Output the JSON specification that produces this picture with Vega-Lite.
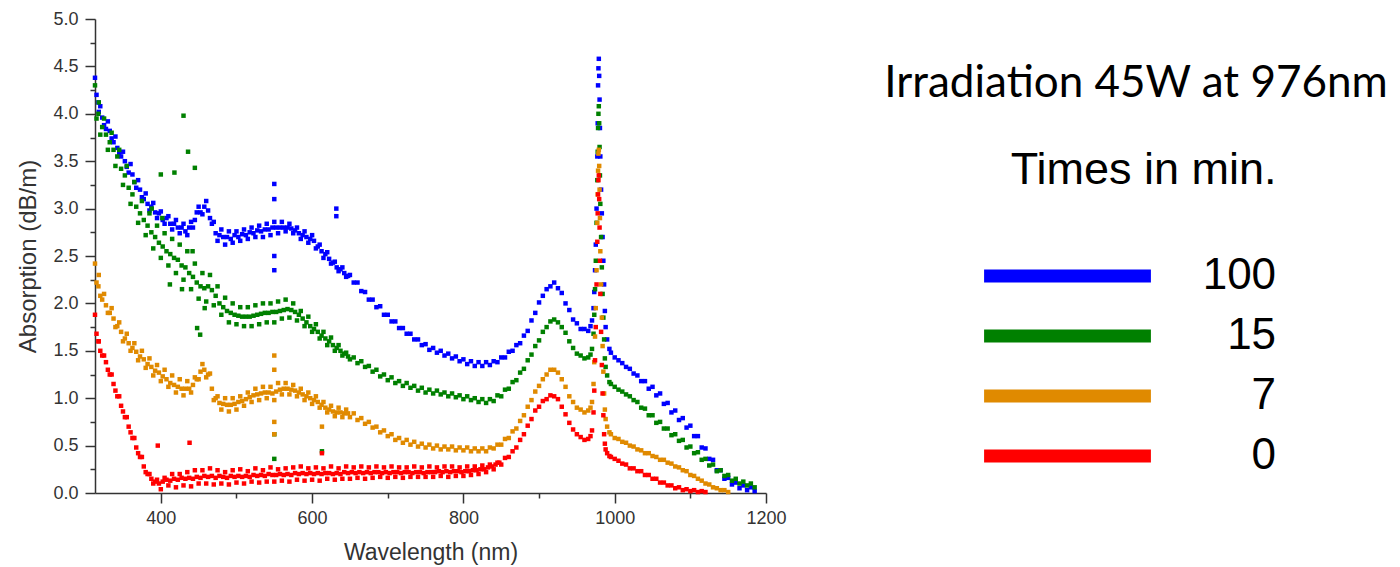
{
"$schema": "https://vega.github.io/schema/vega-lite/v6.json",
"width": 671, "height": 474,
"autosize": {"type": "none"},
"padding": {"left": 95, "top": 19, "right": 634, "bottom": 74},
"background": "white",
"title": {"text": "Irradiation 45W at 976nm", "anchor": "start", "frame": "group", "align": "center", "dx": 1041, "dy": 131, "baseline": "alphabetic", "offset": 0, "font": "Lato", "fontSize": 44, "fontWeight": "normal", "color": "black"},
"data": {"values": [
{"time":"100","nm":313,"abs":4.38},{"time":"100","nm":315,"abs":4.2},{"time":"100","nm":318,"abs":4.02},{"time":"100","nm":320,"abs":4.08},{"time":"100","nm":325,"abs":3.88},{"time":"100","nm":330,"abs":3.92},{"time":"100","nm":335,"abs":3.74},{"time":"100","nm":340,"abs":3.76},{"time":"100","nm":345,"abs":3.58},{"time":"100","nm":350,"abs":3.6},{"time":"100","nm":355,"abs":3.44},{"time":"100","nm":360,"abs":3.47},{"time":"100","nm":365,"abs":3.28},{"time":"100","nm":370,"abs":3.3},{"time":"100","nm":375,"abs":3.12},{"time":"100","nm":380,"abs":3.16},{"time":"100","nm":385,"abs":2.98},{"time":"100","nm":390,"abs":3.06},{"time":"100","nm":395,"abs":2.9},{"time":"100","nm":400,"abs":2.97},{"time":"100","nm":405,"abs":2.84},{"time":"100","nm":410,"abs":2.92},{"time":"100","nm":415,"abs":2.78},{"time":"100","nm":420,"abs":2.88},{"time":"100","nm":425,"abs":2.74},{"time":"100","nm":430,"abs":2.84},{"time":"100","nm":435,"abs":2.72},{"time":"100","nm":440,"abs":2.86},{"time":"100","nm":445,"abs":2.88},{"time":"100","nm":450,"abs":3.02},{"time":"100","nm":455,"abs":2.94},{"time":"100","nm":460,"abs":3.08},{"time":"100","nm":465,"abs":2.9},{"time":"100","nm":470,"abs":2.86},{"time":"100","nm":475,"abs":2.66},{"time":"100","nm":480,"abs":2.78},{"time":"100","nm":485,"abs":2.62},{"time":"100","nm":490,"abs":2.76},{"time":"100","nm":495,"abs":2.64},{"time":"100","nm":500,"abs":2.76},{"time":"100","nm":505,"abs":2.66},{"time":"100","nm":510,"abs":2.78},{"time":"100","nm":515,"abs":2.68},{"time":"100","nm":520,"abs":2.8},{"time":"100","nm":525,"abs":2.7},{"time":"100","nm":530,"abs":2.82},{"time":"100","nm":535,"abs":2.7},{"time":"100","nm":540,"abs":2.84},{"time":"100","nm":545,"abs":2.72},{"time":"100","nm":550,"abs":2.86},{"time":"100","nm":555,"abs":2.74},{"time":"100","nm":560,"abs":2.86},{"time":"100","nm":565,"abs":2.76},{"time":"100","nm":570,"abs":2.84},{"time":"100","nm":575,"abs":2.74},{"time":"100","nm":580,"abs":2.8},{"time":"100","nm":585,"abs":2.68},{"time":"100","nm":590,"abs":2.76},{"time":"100","nm":595,"abs":2.64},{"time":"100","nm":600,"abs":2.72},{"time":"100","nm":605,"abs":2.58},{"time":"100","nm":610,"abs":2.62},{"time":"100","nm":615,"abs":2.48},{"time":"100","nm":620,"abs":2.54},{"time":"100","nm":625,"abs":2.42},{"time":"100","nm":630,"abs":2.44},{"time":"100","nm":635,"abs":2.34},{"time":"100","nm":640,"abs":2.38},{"time":"100","nm":645,"abs":2.28},{"time":"100","nm":650,"abs":2.3},{"time":"100","nm":655,"abs":2.22},{"time":"100","nm":660,"abs":2.22},{"time":"100","nm":665,"abs":2.13},{"time":"100","nm":670,"abs":2.12},{"time":"100","nm":675,"abs":2.04},{"time":"100","nm":680,"abs":2.04},{"time":"100","nm":685,"abs":1.96},{"time":"100","nm":690,"abs":1.97},{"time":"100","nm":695,"abs":1.88},{"time":"100","nm":700,"abs":1.88},{"time":"100","nm":705,"abs":1.81},{"time":"100","nm":710,"abs":1.81},{"time":"100","nm":715,"abs":1.74},{"time":"100","nm":720,"abs":1.74},{"time":"100","nm":725,"abs":1.68},{"time":"100","nm":730,"abs":1.68},{"time":"100","nm":735,"abs":1.62},{"time":"100","nm":740,"abs":1.62},{"time":"100","nm":745,"abs":1.56},{"time":"100","nm":750,"abs":1.57},{"time":"100","nm":755,"abs":1.51},{"time":"100","nm":760,"abs":1.53},{"time":"100","nm":765,"abs":1.48},{"time":"100","nm":770,"abs":1.5},{"time":"100","nm":775,"abs":1.45},{"time":"100","nm":780,"abs":1.47},{"time":"100","nm":785,"abs":1.42},{"time":"100","nm":790,"abs":1.44},{"time":"100","nm":795,"abs":1.39},{"time":"100","nm":800,"abs":1.41},{"time":"100","nm":805,"abs":1.36},{"time":"100","nm":810,"abs":1.39},{"time":"100","nm":815,"abs":1.34},{"time":"100","nm":820,"abs":1.38},{"time":"100","nm":825,"abs":1.34},{"time":"100","nm":830,"abs":1.38},{"time":"100","nm":835,"abs":1.35},{"time":"100","nm":840,"abs":1.39},{"time":"100","nm":845,"abs":1.38},{"time":"100","nm":850,"abs":1.43},{"time":"100","nm":855,"abs":1.43},{"time":"100","nm":860,"abs":1.49},{"time":"100","nm":865,"abs":1.5},{"time":"100","nm":870,"abs":1.56},{"time":"100","nm":875,"abs":1.58},{"time":"100","nm":880,"abs":1.66},{"time":"100","nm":885,"abs":1.71},{"time":"100","nm":890,"abs":1.82},{"time":"100","nm":895,"abs":1.9},{"time":"100","nm":900,"abs":2.01},{"time":"100","nm":905,"abs":2.08},{"time":"100","nm":910,"abs":2.15},{"time":"100","nm":915,"abs":2.18},{"time":"100","nm":920,"abs":2.22},{"time":"100","nm":925,"abs":2.16},{"time":"100","nm":930,"abs":2.11},{"time":"100","nm":935,"abs":2.0},{"time":"100","nm":940,"abs":1.93},{"time":"100","nm":945,"abs":1.83},{"time":"100","nm":950,"abs":1.79},{"time":"100","nm":955,"abs":1.73},{"time":"100","nm":960,"abs":1.73},{"time":"100","nm":965,"abs":1.71},{"time":"100","nm":968,"abs":1.76},{"time":"100","nm":970,"abs":1.82},{"time":"100","nm":972,"abs":1.95},{"time":"100","nm":973,"abs":2.12},{"time":"100","nm":974,"abs":2.35},{"time":"100","nm":975,"abs":2.62},{"time":"100","nm":976,"abs":3.0},{"time":"100","nm":977,"abs":3.55},{"time":"100","nm":977.5,"abs":3.9},{"time":"100","nm":978,"abs":4.3},{"time":"100","nm":978.5,"abs":4.48},{"time":"100","nm":979,"abs":4.58},{"time":"100","nm":979.5,"abs":4.4},{"time":"100","nm":980,"abs":4.15},{"time":"100","nm":980.5,"abs":3.85},{"time":"100","nm":981,"abs":3.55},{"time":"100","nm":982,"abs":3.2},{"time":"100","nm":983,"abs":2.95},{"time":"100","nm":984,"abs":2.7},{"time":"100","nm":985,"abs":2.45},{"time":"100","nm":986,"abs":2.2},{"time":"100","nm":987,"abs":1.92},{"time":"100","nm":988,"abs":1.75},{"time":"100","nm":990,"abs":1.62},{"time":"100","nm":993,"abs":1.52},{"time":"100","nm":995,"abs":1.48},{"time":"100","nm":1000,"abs":1.43},{"time":"100","nm":1005,"abs":1.4},{"time":"100","nm":1010,"abs":1.37},{"time":"100","nm":1015,"abs":1.33},{"time":"100","nm":1020,"abs":1.31},{"time":"100","nm":1025,"abs":1.26},{"time":"100","nm":1030,"abs":1.24},{"time":"100","nm":1035,"abs":1.18},{"time":"100","nm":1040,"abs":1.18},{"time":"100","nm":1045,"abs":1.1},{"time":"100","nm":1050,"abs":1.12},{"time":"100","nm":1055,"abs":1.03},{"time":"100","nm":1060,"abs":1.05},{"time":"100","nm":1065,"abs":0.94},{"time":"100","nm":1070,"abs":0.95},{"time":"100","nm":1075,"abs":0.85},{"time":"100","nm":1080,"abs":0.87},{"time":"100","nm":1085,"abs":0.77},{"time":"100","nm":1090,"abs":0.79},{"time":"100","nm":1095,"abs":0.69},{"time":"100","nm":1100,"abs":0.71},{"time":"100","nm":1105,"abs":0.6},{"time":"100","nm":1110,"abs":0.6},{"time":"100","nm":1115,"abs":0.48},{"time":"100","nm":1120,"abs":0.47},{"time":"100","nm":1125,"abs":0.36},{"time":"100","nm":1130,"abs":0.35},{"time":"100","nm":1135,"abs":0.24},{"time":"100","nm":1140,"abs":0.24},{"time":"100","nm":1145,"abs":0.15},{"time":"100","nm":1150,"abs":0.16},{"time":"100","nm":1155,"abs":0.09},{"time":"100","nm":1160,"abs":0.11},{"time":"100","nm":1165,"abs":0.05},{"time":"100","nm":1170,"abs":0.08},{"time":"100","nm":1175,"abs":0.03},{"time":"100","nm":1180,"abs":0.06},{"time":"100","nm":1185,"abs":0.02},
{"time":"100","nm":550,"abs":3.26},{"time":"100","nm":550,"abs":3.1},{"time":"100","nm":550,"abs":2.5},{"time":"100","nm":550,"abs":2.35},{"time":"100","nm":632,"abs":3.0},{"time":"100","nm":632,"abs":2.92},
{"time":"100","nm":317.5,"abs":4.12},{"time":"100","nm":322.5,"abs":3.96},{"time":"100","nm":327.5,"abs":3.84},{"time":"100","nm":332.5,"abs":3.82},{"time":"100","nm":337.5,"abs":3.7},{"time":"100","nm":342.5,"abs":3.64},{"time":"100","nm":347.5,"abs":3.55},{"time":"100","nm":352.5,"abs":3.5},{"time":"100","nm":357.5,"abs":3.38},{"time":"100","nm":362.5,"abs":3.36},{"time":"100","nm":367.5,"abs":3.22},{"time":"100","nm":372.5,"abs":3.2},{"time":"100","nm":377.5,"abs":3.1},{"time":"100","nm":382.5,"abs":3.05},{"time":"100","nm":387.5,"abs":3.02},{"time":"100","nm":392.5,"abs":2.96},{"time":"100","nm":397.5,"abs":2.95},{"time":"100","nm":402.5,"abs":2.88},{"time":"100","nm":407.5,"abs":2.9},{"time":"100","nm":412.5,"abs":2.84},{"time":"100","nm":417.5,"abs":2.84},{"time":"100","nm":422.5,"abs":2.8},{"time":"100","nm":427.5,"abs":2.8},{"time":"100","nm":432.5,"abs":2.76},{"time":"100","nm":437.5,"abs":2.8},{"time":"100","nm":442.5,"abs":2.8},{"time":"100","nm":447.5,"abs":2.96},{"time":"100","nm":452.5,"abs":2.96},{"time":"100","nm":457.5,"abs":3.02},{"time":"100","nm":462.5,"abs":2.98},{"time":"100","nm":467.5,"abs":2.84},{"time":"100","nm":472.5,"abs":2.74},{"time":"100","nm":477.5,"abs":2.72},{"time":"100","nm":482.5,"abs":2.7},{"time":"100","nm":487.5,"abs":2.7},{"time":"100","nm":492.5,"abs":2.68},{"time":"100","nm":497.5,"abs":2.72},{"time":"100","nm":502.5,"abs":2.7},{"time":"100","nm":507.5,"abs":2.73},{"time":"100","nm":512.5,"abs":2.72},{"time":"100","nm":517.5,"abs":2.75},{"time":"100","nm":522.5,"abs":2.74},{"time":"100","nm":527.5,"abs":2.77},{"time":"100","nm":532.5,"abs":2.76},{"time":"100","nm":537.5,"abs":2.78},{"time":"100","nm":542.5,"abs":2.78},{"time":"100","nm":547.5,"abs":2.8},{"time":"100","nm":552.5,"abs":2.8},{"time":"100","nm":557.5,"abs":2.8},{"time":"100","nm":562.5,"abs":2.8},{"time":"100","nm":567.5,"abs":2.8},{"time":"100","nm":572.5,"abs":2.79},{"time":"100","nm":577.5,"abs":2.77},{"time":"100","nm":582.5,"abs":2.74},{"time":"100","nm":587.5,"abs":2.72},{"time":"100","nm":592.5,"abs":2.7},{"time":"100","nm":597.5,"abs":2.68},{"time":"100","nm":602.5,"abs":2.66},{"time":"100","nm":607.5,"abs":2.6},{"time":"100","nm":612.5,"abs":2.55},{"time":"100","nm":617.5,"abs":2.52},{"time":"100","nm":622.5,"abs":2.47},{"time":"100","nm":627.5,"abs":2.43},{"time":"100","nm":632.5,"abs":2.38},{"time":"100","nm":637.5,"abs":2.36},{"time":"100","nm":642.5,"abs":2.32},{"time":"100","nm":647.5,"abs":2.29},
{"time":"15","nm":313,"abs":4.3},{"time":"15","nm":315,"abs":3.95},{"time":"15","nm":318,"abs":4.12},{"time":"15","nm":320,"abs":3.78},{"time":"15","nm":325,"abs":3.95},{"time":"15","nm":330,"abs":3.62},{"time":"15","nm":335,"abs":3.8},{"time":"15","nm":340,"abs":3.45},{"time":"15","nm":345,"abs":3.62},{"time":"15","nm":350,"abs":3.25},{"time":"15","nm":355,"abs":3.45},{"time":"15","nm":360,"abs":3.05},{"time":"15","nm":365,"abs":3.28},{"time":"15","nm":370,"abs":2.85},{"time":"15","nm":375,"abs":3.08},{"time":"15","nm":380,"abs":2.72},{"time":"15","nm":385,"abs":2.95},{"time":"15","nm":390,"abs":2.58},{"time":"15","nm":395,"abs":2.82},{"time":"15","nm":400,"abs":2.48},{"time":"15","nm":405,"abs":2.74},{"time":"15","nm":410,"abs":2.4},{"time":"15","nm":415,"abs":2.68},{"time":"15","nm":420,"abs":2.32},{"time":"15","nm":425,"abs":2.62},{"time":"15","nm":430,"abs":2.25},{"time":"15","nm":435,"abs":2.55},{"time":"15","nm":440,"abs":2.15},{"time":"15","nm":445,"abs":2.42},{"time":"15","nm":450,"abs":2.05},{"time":"15","nm":455,"abs":2.32},{"time":"15","nm":460,"abs":2.02},{"time":"15","nm":465,"abs":2.3},{"time":"15","nm":470,"abs":1.98},{"time":"15","nm":475,"abs":2.18},{"time":"15","nm":480,"abs":1.88},{"time":"15","nm":485,"abs":2.06},{"time":"15","nm":490,"abs":1.8},{"time":"15","nm":495,"abs":2.0},{"time":"15","nm":500,"abs":1.78},{"time":"15","nm":505,"abs":1.96},{"time":"15","nm":510,"abs":1.76},{"time":"15","nm":515,"abs":1.96},{"time":"15","nm":520,"abs":1.76},{"time":"15","nm":525,"abs":1.98},{"time":"15","nm":530,"abs":1.78},{"time":"15","nm":535,"abs":2.0},{"time":"15","nm":540,"abs":1.8},{"time":"15","nm":545,"abs":2.0},{"time":"15","nm":550,"abs":1.8},{"time":"15","nm":555,"abs":2.02},{"time":"15","nm":560,"abs":1.84},{"time":"15","nm":565,"abs":2.04},{"time":"15","nm":570,"abs":1.85},{"time":"15","nm":575,"abs":2.0},{"time":"15","nm":580,"abs":1.82},{"time":"15","nm":585,"abs":1.92},{"time":"15","nm":590,"abs":1.76},{"time":"15","nm":595,"abs":1.86},{"time":"15","nm":600,"abs":1.7},{"time":"15","nm":605,"abs":1.78},{"time":"15","nm":610,"abs":1.63},{"time":"15","nm":615,"abs":1.7},{"time":"15","nm":620,"abs":1.56},{"time":"15","nm":625,"abs":1.64},{"time":"15","nm":630,"abs":1.5},{"time":"15","nm":635,"abs":1.56},{"time":"15","nm":640,"abs":1.45},{"time":"15","nm":645,"abs":1.48},{"time":"15","nm":650,"abs":1.41},{"time":"15","nm":655,"abs":1.43},{"time":"15","nm":660,"abs":1.37},{"time":"15","nm":665,"abs":1.39},{"time":"15","nm":670,"abs":1.33},{"time":"15","nm":675,"abs":1.34},{"time":"15","nm":680,"abs":1.28},{"time":"15","nm":685,"abs":1.3},{"time":"15","nm":690,"abs":1.23},{"time":"15","nm":695,"abs":1.25},{"time":"15","nm":700,"abs":1.19},{"time":"15","nm":705,"abs":1.22},{"time":"15","nm":710,"abs":1.16},{"time":"15","nm":715,"abs":1.18},{"time":"15","nm":720,"abs":1.13},{"time":"15","nm":725,"abs":1.16},{"time":"15","nm":730,"abs":1.11},{"time":"15","nm":735,"abs":1.13},{"time":"15","nm":740,"abs":1.08},{"time":"15","nm":745,"abs":1.11},{"time":"15","nm":750,"abs":1.06},{"time":"15","nm":755,"abs":1.09},{"time":"15","nm":760,"abs":1.05},{"time":"15","nm":765,"abs":1.08},{"time":"15","nm":770,"abs":1.04},{"time":"15","nm":775,"abs":1.06},{"time":"15","nm":780,"abs":1.02},{"time":"15","nm":785,"abs":1.05},{"time":"15","nm":790,"abs":1.01},{"time":"15","nm":795,"abs":1.03},{"time":"15","nm":800,"abs":0.99},{"time":"15","nm":805,"abs":1.02},{"time":"15","nm":810,"abs":0.98},{"time":"15","nm":815,"abs":1.0},{"time":"15","nm":820,"abs":0.96},{"time":"15","nm":825,"abs":0.99},{"time":"15","nm":830,"abs":0.95},{"time":"15","nm":835,"abs":0.99},{"time":"15","nm":840,"abs":0.97},{"time":"15","nm":845,"abs":1.03},{"time":"15","nm":850,"abs":1.02},{"time":"15","nm":855,"abs":1.09},{"time":"15","nm":860,"abs":1.1},{"time":"15","nm":865,"abs":1.17},{"time":"15","nm":870,"abs":1.19},{"time":"15","nm":875,"abs":1.27},{"time":"15","nm":880,"abs":1.31},{"time":"15","nm":885,"abs":1.4},{"time":"15","nm":890,"abs":1.46},{"time":"15","nm":895,"abs":1.55},{"time":"15","nm":900,"abs":1.61},{"time":"15","nm":905,"abs":1.7},{"time":"15","nm":910,"abs":1.75},{"time":"15","nm":915,"abs":1.81},{"time":"15","nm":920,"abs":1.83},{"time":"15","nm":925,"abs":1.8},{"time":"15","nm":930,"abs":1.75},{"time":"15","nm":935,"abs":1.69},{"time":"15","nm":940,"abs":1.6},{"time":"15","nm":945,"abs":1.53},{"time":"15","nm":950,"abs":1.47},{"time":"15","nm":955,"abs":1.45},{"time":"15","nm":960,"abs":1.42},{"time":"15","nm":965,"abs":1.43},{"time":"15","nm":968,"abs":1.46},{"time":"15","nm":970,"abs":1.52},{"time":"15","nm":972,"abs":1.68},{"time":"15","nm":973,"abs":1.88},{"time":"15","nm":974,"abs":2.15},{"time":"15","nm":975,"abs":2.45},{"time":"15","nm":976,"abs":2.85},{"time":"15","nm":977,"abs":3.3},{"time":"15","nm":977.5,"abs":3.6},{"time":"15","nm":978,"abs":3.85},{"time":"15","nm":978.5,"abs":4.0},{"time":"15","nm":979,"abs":4.08},{"time":"15","nm":979.5,"abs":3.9},{"time":"15","nm":980,"abs":3.65},{"time":"15","nm":980.5,"abs":3.35},{"time":"15","nm":981,"abs":3.05},{"time":"15","nm":982,"abs":2.7},{"time":"15","nm":983,"abs":2.38},{"time":"15","nm":984,"abs":2.1},{"time":"15","nm":985,"abs":1.85},{"time":"15","nm":986,"abs":1.62},{"time":"15","nm":987,"abs":1.42},{"time":"15","nm":988,"abs":1.33},{"time":"15","nm":990,"abs":1.24},{"time":"15","nm":993,"abs":1.17},{"time":"15","nm":995,"abs":1.15},{"time":"15","nm":1000,"abs":1.12},{"time":"15","nm":1005,"abs":1.09},{"time":"15","nm":1010,"abs":1.07},{"time":"15","nm":1015,"abs":1.04},{"time":"15","nm":1020,"abs":1.02},{"time":"15","nm":1025,"abs":0.98},{"time":"15","nm":1030,"abs":0.96},{"time":"15","nm":1035,"abs":0.9},{"time":"15","nm":1040,"abs":0.89},{"time":"15","nm":1045,"abs":0.82},{"time":"15","nm":1050,"abs":0.82},{"time":"15","nm":1055,"abs":0.74},{"time":"15","nm":1060,"abs":0.75},{"time":"15","nm":1065,"abs":0.68},{"time":"15","nm":1070,"abs":0.68},{"time":"15","nm":1075,"abs":0.61},{"time":"15","nm":1080,"abs":0.62},{"time":"15","nm":1085,"abs":0.55},{"time":"15","nm":1090,"abs":0.56},{"time":"15","nm":1095,"abs":0.48},{"time":"15","nm":1100,"abs":0.49},{"time":"15","nm":1105,"abs":0.42},{"time":"15","nm":1110,"abs":0.43},{"time":"15","nm":1115,"abs":0.35},{"time":"15","nm":1120,"abs":0.36},{"time":"15","nm":1125,"abs":0.29},{"time":"15","nm":1130,"abs":0.3},{"time":"15","nm":1135,"abs":0.23},{"time":"15","nm":1140,"abs":0.24},{"time":"15","nm":1145,"abs":0.18},{"time":"15","nm":1150,"abs":0.19},{"time":"15","nm":1155,"abs":0.13},{"time":"15","nm":1160,"abs":0.15},{"time":"15","nm":1165,"abs":0.1},{"time":"15","nm":1170,"abs":0.12},{"time":"15","nm":1175,"abs":0.08},{"time":"15","nm":1180,"abs":0.1},{"time":"15","nm":1185,"abs":0.06},
{"time":"15","nm":430,"abs":3.98},{"time":"15","nm":436,"abs":3.6},{"time":"15","nm":418,"abs":3.38},{"time":"15","nm":400,"abs":3.36},{"time":"15","nm":445,"abs":3.43},{"time":"15","nm":448,"abs":1.74},{"time":"15","nm":452,"abs":1.67},{"time":"15","nm":550,"abs":0.62},{"time":"15","nm":550,"abs":0.36},{"time":"15","nm":613,"abs":0.44},{"time":"15","nm":388,"abs":3.0},{"time":"15","nm":402,"abs":2.9},{"time":"15","nm":412,"abs":2.2},{"time":"15","nm":428,"abs":2.15},{"time":"15","nm":442,"abs":2.55},{"time":"15","nm":458,"abs":1.95},
{"time":"15","nm":317.5,"abs":4.0},{"time":"15","nm":322.5,"abs":3.86},{"time":"15","nm":327.5,"abs":3.78},{"time":"15","nm":332.5,"abs":3.7},{"time":"15","nm":337.5,"abs":3.62},{"time":"15","nm":342.5,"abs":3.55},{"time":"15","nm":347.5,"abs":3.42},{"time":"15","nm":352.5,"abs":3.35},{"time":"15","nm":357.5,"abs":3.22},{"time":"15","nm":362.5,"abs":3.15},{"time":"15","nm":367.5,"abs":3.02},{"time":"15","nm":372.5,"abs":2.95},{"time":"15","nm":377.5,"abs":2.88},{"time":"15","nm":382.5,"abs":2.82},{"time":"15","nm":387.5,"abs":2.75},{"time":"15","nm":392.5,"abs":2.7},{"time":"15","nm":397.5,"abs":2.64},{"time":"15","nm":402.5,"abs":2.6},{"time":"15","nm":407.5,"abs":2.55},{"time":"15","nm":412.5,"abs":2.52},{"time":"15","nm":417.5,"abs":2.48},{"time":"15","nm":422.5,"abs":2.46},{"time":"15","nm":427.5,"abs":2.4},{"time":"15","nm":432.5,"abs":2.38},{"time":"15","nm":437.5,"abs":2.32},{"time":"15","nm":442.5,"abs":2.28},{"time":"15","nm":447.5,"abs":2.22},{"time":"15","nm":452.5,"abs":2.18},{"time":"15","nm":457.5,"abs":2.16},{"time":"15","nm":462.5,"abs":2.18},{"time":"15","nm":467.5,"abs":2.14},{"time":"15","nm":472.5,"abs":2.08},{"time":"15","nm":477.5,"abs":2.0},{"time":"15","nm":482.5,"abs":1.96},{"time":"15","nm":487.5,"abs":1.92},{"time":"15","nm":492.5,"abs":1.9},{"time":"15","nm":497.5,"abs":1.88},{"time":"15","nm":502.5,"abs":1.87},{"time":"15","nm":507.5,"abs":1.86},{"time":"15","nm":512.5,"abs":1.86},{"time":"15","nm":517.5,"abs":1.86},{"time":"15","nm":522.5,"abs":1.87},{"time":"15","nm":527.5,"abs":1.88},{"time":"15","nm":532.5,"abs":1.89},{"time":"15","nm":537.5,"abs":1.9},{"time":"15","nm":542.5,"abs":1.9},{"time":"15","nm":547.5,"abs":1.91},{"time":"15","nm":552.5,"abs":1.91},{"time":"15","nm":557.5,"abs":1.92},{"time":"15","nm":562.5,"abs":1.93},{"time":"15","nm":567.5,"abs":1.94},{"time":"15","nm":572.5,"abs":1.93},{"time":"15","nm":577.5,"abs":1.91},{"time":"15","nm":582.5,"abs":1.88},{"time":"15","nm":587.5,"abs":1.84},{"time":"15","nm":592.5,"abs":1.8},{"time":"15","nm":597.5,"abs":1.76},{"time":"15","nm":602.5,"abs":1.73},{"time":"15","nm":607.5,"abs":1.7},{"time":"15","nm":612.5,"abs":1.66},{"time":"15","nm":617.5,"abs":1.63},{"time":"15","nm":622.5,"abs":1.6},{"time":"15","nm":627.5,"abs":1.56},{"time":"15","nm":632.5,"abs":1.53},{"time":"15","nm":637.5,"abs":1.5},{"time":"15","nm":642.5,"abs":1.47},{"time":"15","nm":647.5,"abs":1.44},
{"time":"7","nm":313,"abs":2.42},{"time":"7","nm":315,"abs":2.22},{"time":"7","nm":318,"abs":2.3},{"time":"7","nm":320,"abs":2.08},{"time":"7","nm":325,"abs":2.1},{"time":"7","nm":330,"abs":1.9},{"time":"7","nm":335,"abs":1.95},{"time":"7","nm":340,"abs":1.75},{"time":"7","nm":345,"abs":1.8},{"time":"7","nm":350,"abs":1.6},{"time":"7","nm":355,"abs":1.68},{"time":"7","nm":360,"abs":1.5},{"time":"7","nm":365,"abs":1.58},{"time":"7","nm":370,"abs":1.4},{"time":"7","nm":375,"abs":1.5},{"time":"7","nm":380,"abs":1.32},{"time":"7","nm":385,"abs":1.42},{"time":"7","nm":390,"abs":1.24},{"time":"7","nm":395,"abs":1.35},{"time":"7","nm":400,"abs":1.18},{"time":"7","nm":405,"abs":1.3},{"time":"7","nm":410,"abs":1.12},{"time":"7","nm":415,"abs":1.24},{"time":"7","nm":420,"abs":1.06},{"time":"7","nm":425,"abs":1.2},{"time":"7","nm":430,"abs":1.03},{"time":"7","nm":435,"abs":1.18},{"time":"7","nm":440,"abs":1.06},{"time":"7","nm":445,"abs":1.22},{"time":"7","nm":450,"abs":1.2},{"time":"7","nm":455,"abs":1.36},{"time":"7","nm":460,"abs":1.22},{"time":"7","nm":465,"abs":1.26},{"time":"7","nm":470,"abs":0.98},{"time":"7","nm":475,"abs":1.02},{"time":"7","nm":480,"abs":0.88},{"time":"7","nm":485,"abs":1.0},{"time":"7","nm":490,"abs":0.86},{"time":"7","nm":495,"abs":1.0},{"time":"7","nm":500,"abs":0.88},{"time":"7","nm":505,"abs":1.02},{"time":"7","nm":510,"abs":0.92},{"time":"7","nm":515,"abs":1.06},{"time":"7","nm":520,"abs":0.96},{"time":"7","nm":525,"abs":1.1},{"time":"7","nm":530,"abs":0.98},{"time":"7","nm":535,"abs":1.12},{"time":"7","nm":540,"abs":1.0},{"time":"7","nm":545,"abs":1.12},{"time":"7","nm":550,"abs":0.98},{"time":"7","nm":555,"abs":1.16},{"time":"7","nm":560,"abs":1.04},{"time":"7","nm":565,"abs":1.16},{"time":"7","nm":570,"abs":1.04},{"time":"7","nm":575,"abs":1.14},{"time":"7","nm":580,"abs":1.02},{"time":"7","nm":585,"abs":1.1},{"time":"7","nm":590,"abs":0.98},{"time":"7","nm":595,"abs":1.06},{"time":"7","nm":600,"abs":0.94},{"time":"7","nm":605,"abs":1.02},{"time":"7","nm":610,"abs":0.9},{"time":"7","nm":615,"abs":0.96},{"time":"7","nm":620,"abs":0.85},{"time":"7","nm":625,"abs":0.92},{"time":"7","nm":630,"abs":0.81},{"time":"7","nm":635,"abs":0.9},{"time":"7","nm":640,"abs":0.8},{"time":"7","nm":645,"abs":0.88},{"time":"7","nm":650,"abs":0.8},{"time":"7","nm":655,"abs":0.84},{"time":"7","nm":660,"abs":0.77},{"time":"7","nm":665,"abs":0.79},{"time":"7","nm":670,"abs":0.73},{"time":"7","nm":675,"abs":0.75},{"time":"7","nm":680,"abs":0.69},{"time":"7","nm":685,"abs":0.7},{"time":"7","nm":690,"abs":0.64},{"time":"7","nm":695,"abs":0.66},{"time":"7","nm":700,"abs":0.6},{"time":"7","nm":705,"abs":0.62},{"time":"7","nm":710,"abs":0.56},{"time":"7","nm":715,"abs":0.58},{"time":"7","nm":720,"abs":0.53},{"time":"7","nm":725,"abs":0.56},{"time":"7","nm":730,"abs":0.51},{"time":"7","nm":735,"abs":0.54},{"time":"7","nm":740,"abs":0.49},{"time":"7","nm":745,"abs":0.52},{"time":"7","nm":750,"abs":0.48},{"time":"7","nm":755,"abs":0.51},{"time":"7","nm":760,"abs":0.47},{"time":"7","nm":765,"abs":0.5},{"time":"7","nm":770,"abs":0.46},{"time":"7","nm":775,"abs":0.49},{"time":"7","nm":780,"abs":0.46},{"time":"7","nm":785,"abs":0.49},{"time":"7","nm":790,"abs":0.45},{"time":"7","nm":795,"abs":0.48},{"time":"7","nm":800,"abs":0.45},{"time":"7","nm":805,"abs":0.48},{"time":"7","nm":810,"abs":0.44},{"time":"7","nm":815,"abs":0.47},{"time":"7","nm":820,"abs":0.44},{"time":"7","nm":825,"abs":0.47},{"time":"7","nm":830,"abs":0.44},{"time":"7","nm":835,"abs":0.48},{"time":"7","nm":840,"abs":0.47},{"time":"7","nm":845,"abs":0.51},{"time":"7","nm":850,"abs":0.51},{"time":"7","nm":855,"abs":0.57},{"time":"7","nm":860,"abs":0.58},{"time":"7","nm":865,"abs":0.65},{"time":"7","nm":870,"abs":0.68},{"time":"7","nm":875,"abs":0.76},{"time":"7","nm":880,"abs":0.82},{"time":"7","nm":885,"abs":0.91},{"time":"7","nm":890,"abs":0.98},{"time":"7","nm":895,"abs":1.07},{"time":"7","nm":900,"abs":1.13},{"time":"7","nm":905,"abs":1.2},{"time":"7","nm":910,"abs":1.25},{"time":"7","nm":915,"abs":1.3},{"time":"7","nm":920,"abs":1.3},{"time":"7","nm":925,"abs":1.27},{"time":"7","nm":930,"abs":1.2},{"time":"7","nm":935,"abs":1.12},{"time":"7","nm":940,"abs":1.02},{"time":"7","nm":945,"abs":0.96},{"time":"7","nm":950,"abs":0.9},{"time":"7","nm":955,"abs":0.88},{"time":"7","nm":960,"abs":0.85},{"time":"7","nm":965,"abs":0.87},{"time":"7","nm":968,"abs":0.9},{"time":"7","nm":970,"abs":0.96},{"time":"7","nm":972,"abs":1.15},{"time":"7","nm":973,"abs":1.38},{"time":"7","nm":974,"abs":1.65},{"time":"7","nm":975,"abs":1.95},{"time":"7","nm":976,"abs":2.35},{"time":"7","nm":977,"abs":2.85},{"time":"7","nm":977.5,"abs":3.15},{"time":"7","nm":978,"abs":3.4},{"time":"7","nm":978.5,"abs":3.58},{"time":"7","nm":979,"abs":3.62},{"time":"7","nm":979.5,"abs":3.45},{"time":"7","nm":980,"abs":3.2},{"time":"7","nm":980.5,"abs":2.9},{"time":"7","nm":981,"abs":2.55},{"time":"7","nm":982,"abs":2.2},{"time":"7","nm":983,"abs":1.85},{"time":"7","nm":984,"abs":1.55},{"time":"7","nm":985,"abs":1.28},{"time":"7","nm":986,"abs":1.05},{"time":"7","nm":987,"abs":0.88},{"time":"7","nm":988,"abs":0.78},{"time":"7","nm":990,"abs":0.7},{"time":"7","nm":993,"abs":0.64},{"time":"7","nm":995,"abs":0.62},{"time":"7","nm":1000,"abs":0.58},{"time":"7","nm":1005,"abs":0.57},{"time":"7","nm":1010,"abs":0.54},{"time":"7","nm":1015,"abs":0.53},{"time":"7","nm":1020,"abs":0.5},{"time":"7","nm":1025,"abs":0.49},{"time":"7","nm":1030,"abs":0.46},{"time":"7","nm":1035,"abs":0.45},{"time":"7","nm":1040,"abs":0.42},{"time":"7","nm":1045,"abs":0.42},{"time":"7","nm":1050,"abs":0.39},{"time":"7","nm":1055,"abs":0.38},{"time":"7","nm":1060,"abs":0.35},{"time":"7","nm":1065,"abs":0.35},{"time":"7","nm":1070,"abs":0.32},{"time":"7","nm":1075,"abs":0.31},{"time":"7","nm":1080,"abs":0.28},{"time":"7","nm":1085,"abs":0.27},{"time":"7","nm":1090,"abs":0.24},{"time":"7","nm":1095,"abs":0.23},{"time":"7","nm":1100,"abs":0.19},{"time":"7","nm":1105,"abs":0.18},{"time":"7","nm":1110,"abs":0.15},{"time":"7","nm":1115,"abs":0.13},{"time":"7","nm":1120,"abs":0.1},{"time":"7","nm":1125,"abs":0.09},{"time":"7","nm":1130,"abs":0.06},{"time":"7","nm":1135,"abs":0.05},{"time":"7","nm":1140,"abs":0.03},{"time":"7","nm":1145,"abs":0.03},{"time":"7","nm":1150,"abs":0.01},
{"time":"7","nm":550,"abs":1.45},{"time":"7","nm":550,"abs":1.3},{"time":"7","nm":550,"abs":0.75},{"time":"7","nm":550,"abs":0.62},{"time":"7","nm":613,"abs":0.7},
{"time":"7","nm":317.5,"abs":2.18},{"time":"7","nm":322.5,"abs":2.04},{"time":"7","nm":327.5,"abs":1.98},{"time":"7","nm":332.5,"abs":1.9},{"time":"7","nm":337.5,"abs":1.84},{"time":"7","nm":342.5,"abs":1.76},{"time":"7","nm":347.5,"abs":1.7},{"time":"7","nm":352.5,"abs":1.63},{"time":"7","nm":357.5,"abs":1.58},{"time":"7","nm":362.5,"abs":1.53},{"time":"7","nm":367.5,"abs":1.49},{"time":"7","nm":372.5,"abs":1.44},{"time":"7","nm":377.5,"abs":1.41},{"time":"7","nm":382.5,"abs":1.36},{"time":"7","nm":387.5,"abs":1.33},{"time":"7","nm":392.5,"abs":1.29},{"time":"7","nm":397.5,"abs":1.27},{"time":"7","nm":402.5,"abs":1.23},{"time":"7","nm":407.5,"abs":1.2},{"time":"7","nm":412.5,"abs":1.16},{"time":"7","nm":417.5,"abs":1.14},{"time":"7","nm":422.5,"abs":1.12},{"time":"7","nm":427.5,"abs":1.1},{"time":"7","nm":432.5,"abs":1.1},{"time":"7","nm":437.5,"abs":1.1},{"time":"7","nm":442.5,"abs":1.14},{"time":"7","nm":447.5,"abs":1.2},{"time":"7","nm":452.5,"abs":1.28},{"time":"7","nm":457.5,"abs":1.3},{"time":"7","nm":462.5,"abs":1.25},{"time":"7","nm":467.5,"abs":1.1},{"time":"7","nm":472.5,"abs":1.0},{"time":"7","nm":477.5,"abs":0.95},{"time":"7","nm":482.5,"abs":0.94},{"time":"7","nm":487.5,"abs":0.93},{"time":"7","nm":492.5,"abs":0.93},{"time":"7","nm":497.5,"abs":0.94},{"time":"7","nm":502.5,"abs":0.96},{"time":"7","nm":507.5,"abs":0.97},{"time":"7","nm":512.5,"abs":0.99},{"time":"7","nm":517.5,"abs":1.01},{"time":"7","nm":522.5,"abs":1.03},{"time":"7","nm":527.5,"abs":1.04},{"time":"7","nm":532.5,"abs":1.05},{"time":"7","nm":537.5,"abs":1.06},{"time":"7","nm":542.5,"abs":1.06},{"time":"7","nm":547.5,"abs":1.05},{"time":"7","nm":552.5,"abs":1.07},{"time":"7","nm":557.5,"abs":1.09},{"time":"7","nm":562.5,"abs":1.1},{"time":"7","nm":567.5,"abs":1.1},{"time":"7","nm":572.5,"abs":1.09},{"time":"7","nm":577.5,"abs":1.08},{"time":"7","nm":582.5,"abs":1.06},{"time":"7","nm":587.5,"abs":1.04},{"time":"7","nm":592.5,"abs":1.02},{"time":"7","nm":597.5,"abs":1.0},{"time":"7","nm":602.5,"abs":0.98},{"time":"7","nm":607.5,"abs":0.96},{"time":"7","nm":612.5,"abs":0.93},{"time":"7","nm":617.5,"abs":0.9},{"time":"7","nm":622.5,"abs":0.88},{"time":"7","nm":627.5,"abs":0.86},{"time":"7","nm":632.5,"abs":0.85},{"time":"7","nm":637.5,"abs":0.85},{"time":"7","nm":642.5,"abs":0.84},{"time":"7","nm":647.5,"abs":0.84},
{"time":"0","nm":313,"abs":1.88},{"time":"0","nm":315,"abs":1.68},{"time":"0","nm":318,"abs":1.6},{"time":"0","nm":320,"abs":1.5},{"time":"0","nm":325,"abs":1.45},{"time":"0","nm":330,"abs":1.3},{"time":"0","nm":335,"abs":1.25},{"time":"0","nm":340,"abs":1.08},{"time":"0","nm":345,"abs":1.02},{"time":"0","nm":350,"abs":0.86},{"time":"0","nm":355,"abs":0.8},{"time":"0","nm":360,"abs":0.64},{"time":"0","nm":365,"abs":0.58},{"time":"0","nm":370,"abs":0.42},{"time":"0","nm":375,"abs":0.38},{"time":"0","nm":380,"abs":0.22},{"time":"0","nm":385,"abs":0.2},{"time":"0","nm":390,"abs":0.1},{"time":"0","nm":395,"abs":0.14},{"time":"0","nm":400,"abs":0.04},{"time":"0","nm":405,"abs":0.16},{"time":"0","nm":410,"abs":0.08},{"time":"0","nm":415,"abs":0.2},{"time":"0","nm":420,"abs":0.06},{"time":"0","nm":425,"abs":0.2},{"time":"0","nm":430,"abs":0.08},{"time":"0","nm":435,"abs":0.22},{"time":"0","nm":440,"abs":0.07},{"time":"0","nm":445,"abs":0.24},{"time":"0","nm":450,"abs":0.1},{"time":"0","nm":455,"abs":0.24},{"time":"0","nm":460,"abs":0.1},{"time":"0","nm":465,"abs":0.26},{"time":"0","nm":470,"abs":0.09},{"time":"0","nm":475,"abs":0.24},{"time":"0","nm":480,"abs":0.1},{"time":"0","nm":485,"abs":0.22},{"time":"0","nm":490,"abs":0.09},{"time":"0","nm":495,"abs":0.24},{"time":"0","nm":500,"abs":0.11},{"time":"0","nm":505,"abs":0.25},{"time":"0","nm":510,"abs":0.1},{"time":"0","nm":515,"abs":0.23},{"time":"0","nm":520,"abs":0.12},{"time":"0","nm":525,"abs":0.26},{"time":"0","nm":530,"abs":0.11},{"time":"0","nm":535,"abs":0.24},{"time":"0","nm":540,"abs":0.12},{"time":"0","nm":545,"abs":0.27},{"time":"0","nm":550,"abs":0.12},{"time":"0","nm":555,"abs":0.25},{"time":"0","nm":560,"abs":0.13},{"time":"0","nm":565,"abs":0.26},{"time":"0","nm":570,"abs":0.12},{"time":"0","nm":575,"abs":0.27},{"time":"0","nm":580,"abs":0.14},{"time":"0","nm":585,"abs":0.28},{"time":"0","nm":590,"abs":0.13},{"time":"0","nm":595,"abs":0.26},{"time":"0","nm":600,"abs":0.14},{"time":"0","nm":605,"abs":0.27},{"time":"0","nm":610,"abs":0.13},{"time":"0","nm":615,"abs":0.26},{"time":"0","nm":620,"abs":0.15},{"time":"0","nm":625,"abs":0.28},{"time":"0","nm":630,"abs":0.14},{"time":"0","nm":635,"abs":0.26},{"time":"0","nm":640,"abs":0.15},{"time":"0","nm":645,"abs":0.28},{"time":"0","nm":650,"abs":0.15},{"time":"0","nm":655,"abs":0.27},{"time":"0","nm":660,"abs":0.16},{"time":"0","nm":665,"abs":0.28},{"time":"0","nm":670,"abs":0.15},{"time":"0","nm":675,"abs":0.27},{"time":"0","nm":680,"abs":0.16},{"time":"0","nm":685,"abs":0.28},{"time":"0","nm":690,"abs":0.17},{"time":"0","nm":695,"abs":0.27},{"time":"0","nm":700,"abs":0.16},{"time":"0","nm":705,"abs":0.28},{"time":"0","nm":710,"abs":0.17},{"time":"0","nm":715,"abs":0.27},{"time":"0","nm":720,"abs":0.16},{"time":"0","nm":725,"abs":0.27},{"time":"0","nm":730,"abs":0.17},{"time":"0","nm":735,"abs":0.28},{"time":"0","nm":740,"abs":0.17},{"time":"0","nm":745,"abs":0.27},{"time":"0","nm":750,"abs":0.17},{"time":"0","nm":755,"abs":0.28},{"time":"0","nm":760,"abs":0.17},{"time":"0","nm":765,"abs":0.27},{"time":"0","nm":770,"abs":0.18},{"time":"0","nm":775,"abs":0.28},{"time":"0","nm":780,"abs":0.17},{"time":"0","nm":785,"abs":0.28},{"time":"0","nm":790,"abs":0.18},{"time":"0","nm":795,"abs":0.27},{"time":"0","nm":800,"abs":0.18},{"time":"0","nm":805,"abs":0.28},{"time":"0","nm":810,"abs":0.19},{"time":"0","nm":815,"abs":0.28},{"time":"0","nm":820,"abs":0.2},{"time":"0","nm":825,"abs":0.29},{"time":"0","nm":830,"abs":0.22},{"time":"0","nm":835,"abs":0.3},{"time":"0","nm":840,"abs":0.25},{"time":"0","nm":845,"abs":0.32},{"time":"0","nm":850,"abs":0.3},{"time":"0","nm":855,"abs":0.37},{"time":"0","nm":860,"abs":0.38},{"time":"0","nm":865,"abs":0.44},{"time":"0","nm":870,"abs":0.48},{"time":"0","nm":875,"abs":0.56},{"time":"0","nm":880,"abs":0.62},{"time":"0","nm":885,"abs":0.71},{"time":"0","nm":890,"abs":0.78},{"time":"0","nm":895,"abs":0.87},{"time":"0","nm":900,"abs":0.91},{"time":"0","nm":905,"abs":0.97},{"time":"0","nm":910,"abs":0.99},{"time":"0","nm":915,"abs":1.03},{"time":"0","nm":920,"abs":1.02},{"time":"0","nm":925,"abs":0.99},{"time":"0","nm":930,"abs":0.91},{"time":"0","nm":935,"abs":0.83},{"time":"0","nm":940,"abs":0.74},{"time":"0","nm":945,"abs":0.67},{"time":"0","nm":950,"abs":0.62},{"time":"0","nm":955,"abs":0.59},{"time":"0","nm":960,"abs":0.56},{"time":"0","nm":965,"abs":0.57},{"time":"0","nm":968,"abs":0.6},{"time":"0","nm":970,"abs":0.66},{"time":"0","nm":972,"abs":0.85},{"time":"0","nm":973,"abs":1.08},{"time":"0","nm":974,"abs":1.4},{"time":"0","nm":975,"abs":1.75},{"time":"0","nm":976,"abs":2.2},{"time":"0","nm":977,"abs":2.65},{"time":"0","nm":977.5,"abs":2.95},{"time":"0","nm":978,"abs":3.15},{"time":"0","nm":978.5,"abs":3.3},{"time":"0","nm":979,"abs":3.35},{"time":"0","nm":979.5,"abs":3.1},{"time":"0","nm":980,"abs":2.8},{"time":"0","nm":980.5,"abs":2.45},{"time":"0","nm":981,"abs":2.1},{"time":"0","nm":982,"abs":1.7},{"time":"0","nm":983,"abs":1.35},{"time":"0","nm":984,"abs":1.05},{"time":"0","nm":985,"abs":0.82},{"time":"0","nm":986,"abs":0.62},{"time":"0","nm":987,"abs":0.52},{"time":"0","nm":988,"abs":0.46},{"time":"0","nm":990,"abs":0.42},{"time":"0","nm":993,"abs":0.39},{"time":"0","nm":995,"abs":0.38},{"time":"0","nm":1000,"abs":0.36},{"time":"0","nm":1005,"abs":0.34},{"time":"0","nm":1010,"abs":0.31},{"time":"0","nm":1015,"abs":0.3},{"time":"0","nm":1020,"abs":0.26},{"time":"0","nm":1025,"abs":0.26},{"time":"0","nm":1030,"abs":0.23},{"time":"0","nm":1035,"abs":0.23},{"time":"0","nm":1040,"abs":0.19},{"time":"0","nm":1045,"abs":0.19},{"time":"0","nm":1050,"abs":0.15},{"time":"0","nm":1055,"abs":0.15},{"time":"0","nm":1060,"abs":0.11},{"time":"0","nm":1065,"abs":0.11},{"time":"0","nm":1070,"abs":0.08},{"time":"0","nm":1075,"abs":0.08},{"time":"0","nm":1080,"abs":0.05},{"time":"0","nm":1085,"abs":0.06},{"time":"0","nm":1090,"abs":0.03},{"time":"0","nm":1095,"abs":0.04},{"time":"0","nm":1100,"abs":0.02},{"time":"0","nm":1105,"abs":0.03},{"time":"0","nm":1110,"abs":0.01},{"time":"0","nm":1115,"abs":0.02},{"time":"0","nm":1120,"abs":0.01},
{"time":"0","nm":396,"abs":0.5},{"time":"0","nm":438,"abs":0.53},{"time":"0","nm":613,"abs":0.42},
{"time":"0","nm":317.5,"abs":1.6},{"time":"0","nm":322.5,"abs":1.45},{"time":"0","nm":327.5,"abs":1.38},{"time":"0","nm":332.5,"abs":1.25},{"time":"0","nm":337.5,"abs":1.15},{"time":"0","nm":342.5,"abs":1.02},{"time":"0","nm":347.5,"abs":0.92},{"time":"0","nm":352.5,"abs":0.8},{"time":"0","nm":357.5,"abs":0.7},{"time":"0","nm":362.5,"abs":0.58},{"time":"0","nm":367.5,"abs":0.48},{"time":"0","nm":372.5,"abs":0.38},{"time":"0","nm":377.5,"abs":0.28},{"time":"0","nm":382.5,"abs":0.2},{"time":"0","nm":387.5,"abs":0.15},{"time":"0","nm":392.5,"abs":0.12},{"time":"0","nm":397.5,"abs":0.1},{"time":"0","nm":402.5,"abs":0.12},{"time":"0","nm":407.5,"abs":0.14},{"time":"0","nm":412.5,"abs":0.13},{"time":"0","nm":417.5,"abs":0.15},{"time":"0","nm":422.5,"abs":0.14},{"time":"0","nm":427.5,"abs":0.16},{"time":"0","nm":432.5,"abs":0.15},{"time":"0","nm":437.5,"abs":0.16},{"time":"0","nm":442.5,"abs":0.15},{"time":"0","nm":447.5,"abs":0.17},{"time":"0","nm":452.5,"abs":0.16},{"time":"0","nm":457.5,"abs":0.18},{"time":"0","nm":462.5,"abs":0.17},{"time":"0","nm":467.5,"abs":0.18},{"time":"0","nm":472.5,"abs":0.16},{"time":"0","nm":477.5,"abs":0.18},{"time":"0","nm":482.5,"abs":0.17},{"time":"0","nm":487.5,"abs":0.16},{"time":"0","nm":492.5,"abs":0.18},{"time":"0","nm":497.5,"abs":0.17},{"time":"0","nm":502.5,"abs":0.18},{"time":"0","nm":507.5,"abs":0.17},{"time":"0","nm":512.5,"abs":0.18},{"time":"0","nm":517.5,"abs":0.17},{"time":"0","nm":522.5,"abs":0.19},{"time":"0","nm":527.5,"abs":0.18},{"time":"0","nm":532.5,"abs":0.19},{"time":"0","nm":537.5,"abs":0.18},{"time":"0","nm":542.5,"abs":0.2},{"time":"0","nm":547.5,"abs":0.19},{"time":"0","nm":552.5,"abs":0.19},{"time":"0","nm":557.5,"abs":0.2},{"time":"0","nm":562.5,"abs":0.19},{"time":"0","nm":567.5,"abs":0.2},{"time":"0","nm":572.5,"abs":0.19},{"time":"0","nm":577.5,"abs":0.21},{"time":"0","nm":582.5,"abs":0.2},{"time":"0","nm":587.5,"abs":0.21},{"time":"0","nm":592.5,"abs":0.2},{"time":"0","nm":597.5,"abs":0.21},{"time":"0","nm":602.5,"abs":0.2},{"time":"0","nm":607.5,"abs":0.21},{"time":"0","nm":612.5,"abs":0.2},{"time":"0","nm":617.5,"abs":0.21},{"time":"0","nm":622.5,"abs":0.21},{"time":"0","nm":627.5,"abs":0.2},{"time":"0","nm":632.5,"abs":0.21},{"time":"0","nm":637.5,"abs":0.2},{"time":"0","nm":642.5,"abs":0.22},{"time":"0","nm":647.5,"abs":0.21},{"time":"0","nm":652.5,"abs":0.22},{"time":"0","nm":657.5,"abs":0.21},{"time":"0","nm":662.5,"abs":0.22},{"time":"0","nm":667.5,"abs":0.21},{"time":"0","nm":672.5,"abs":0.22},{"time":"0","nm":677.5,"abs":0.21},{"time":"0","nm":682.5,"abs":0.22},{"time":"0","nm":687.5,"abs":0.22},{"time":"0","nm":692.5,"abs":0.21},{"time":"0","nm":697.5,"abs":0.22},{"time":"0","nm":702.5,"abs":0.21},{"time":"0","nm":707.5,"abs":0.22},{"time":"0","nm":712.5,"abs":0.22},{"time":"0","nm":717.5,"abs":0.21},{"time":"0","nm":722.5,"abs":0.22},{"time":"0","nm":727.5,"abs":0.22},{"time":"0","nm":732.5,"abs":0.21},{"time":"0","nm":737.5,"abs":0.22},{"time":"0","nm":742.5,"abs":0.22},{"time":"0","nm":747.5,"abs":0.21},{"time":"0","nm":752.5,"abs":0.22},{"time":"0","nm":757.5,"abs":0.22},{"time":"0","nm":762.5,"abs":0.22},{"time":"0","nm":767.5,"abs":0.23},{"time":"0","nm":772.5,"abs":0.22},{"time":"0","nm":777.5,"abs":0.23},{"time":"0","nm":782.5,"abs":0.22},{"time":"0","nm":787.5,"abs":0.23},{"time":"0","nm":792.5,"abs":0.23},{"time":"0","nm":797.5,"abs":0.22},{"time":"0","nm":802.5,"abs":0.23},{"time":"0","nm":807.5,"abs":0.23},{"time":"0","nm":812.5,"abs":0.24},{"time":"0","nm":817.5,"abs":0.24},{"time":"0","nm":822.5,"abs":0.25},{"time":"0","nm":827.5,"abs":0.25},{"time":"0","nm":832.5,"abs":0.27},{"time":"0","nm":837.5,"abs":0.28},{"time":"0","nm":842.5,"abs":0.3},{"time":"0","nm":847.5,"abs":0.32}
]},
"layer": [
{"mark": {"type": "point", "shape": "square", "filled": true, "size": 20, "opacity": 1, "strokeWidth": 0},
 "encoding": {
  "x": {"field": "nm", "type": "quantitative", "scale": {"domain": [313, 1200], "nice": false, "zero": false},
        "axis": {"orient": "bottom", "values": [400, 600, 800, 1000, 1200], "format": "d", "grid": false, "tickSize": 10, "tickWidth": 1.5, "tickColor": "#333", "domainColor": "#333", "domainWidth": 1.5, "labelFont": "Liberation Sans", "labelFontSize": 18, "labelColor": "#333", "labelPadding": 6, "labelFlush": false, "labelOverlap": false, "title": "Wavelength (nm)", "titleFont": "Liberation Sans", "titleFontSize": 23, "titleFontWeight": "normal", "titleColor": "#333", "titlePadding": 14}},
  "y": {"field": "abs", "type": "quantitative", "scale": {"domain": [0, 5], "nice": false, "zero": false},
        "axis": {"orient": "left", "values": [0, 0.5, 1, 1.5, 2, 2.5, 3, 3.5, 4, 4.5, 5], "format": ".1f", "grid": false, "tickSize": 10, "tickWidth": 1.5, "tickColor": "#333", "domainColor": "#333", "domainWidth": 1.5, "labelFont": "Liberation Sans", "labelFontSize": 18, "labelColor": "#333", "labelPadding": 7, "labelFlush": false, "labelOverlap": false, "title": "Absorption (dB/m)", "titleFont": "Liberation Sans", "titleFontSize": 24, "titleFontWeight": "normal", "titleColor": "#333", "titlePadding": 12}},
  "color": {"field": "time", "type": "nominal",
        "scale": {"domain": ["100", "15", "7", "0"], "range": ["#0000FF", "#008000", "#E08A00", "#FF0000"]},
        "legend": {"orient": "none", "legendX": 915.5, "legendY": 129, "title": "Times in min.", "titleFont": "Liberation Sans", "titleFontSize": 45, "titleFontWeight": "normal", "titleColor": "black", "titleAnchor": "end", "titlePadding": 55, "titleLimit": 1000, "symbolType": "M-2.979,-0.232H2.979V0.232H-2.979Z", "symbolSize": 3136, "symbolStrokeWidth": 0, "labelFont": "Liberation Sans", "labelFontSize": 44, "labelColor": "black", "labelAlign": "right", "labelOffset": 180.6, "labelLimit": 400, "rowPadding": 10, "padding": 0, "offset": 0,
          "encode": {"symbols": {"update": {"fill": [{"test": "datum.label == '7' || datum.value == '7'", "value": "#FF6600"}, {"scale": "color", "field": "value"}], "stroke": [{"test": "datum.label == '7' || datum.value == '7'", "value": "#FF6600"}, {"value": "transparent"}], "opacity": {"value": 1}, "fillOpacity": {"value": 1}}}, "labels": {"update": {"dy": {"value": 6}}}}}}
 }},
{"transform": [{"filter": "datum.nm == 979"}],
 "mark": {"type": "point", "opacity": 0},
 "encoding": {
  "x": {"field": "nm", "type": "quantitative", "axis": {"orient": "bottom", "values": [500, 700, 900, 1100], "grid": false, "tickSize": 5, "tickWidth": 1.5, "tickColor": "#333", "domain": false, "labels": false, "title": null}},
  "y": {"field": "abs", "type": "quantitative", "axis": {"orient": "left", "values": [0.25, 0.75, 1.25, 1.75, 2.25, 2.75, 3.25, 3.75, 4.25, 4.75], "grid": false, "tickSize": 5, "tickWidth": 1.5, "tickColor": "#333", "domain": false, "labels": false, "title": null}}
 }}
],
"resolve": {"axis": {"x": "independent", "y": "independent"}},
"config": {"view": {"stroke": null}}
}
